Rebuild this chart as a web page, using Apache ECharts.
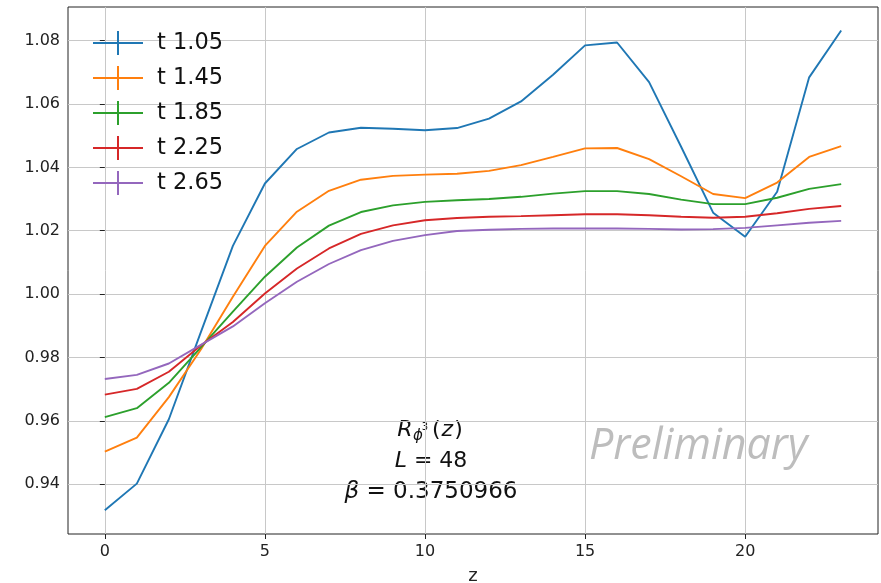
<!DOCTYPE html>
<html>
<head>
<meta charset="utf-8">
<script src="https://cdn.jsdelivr.net/npm/echarts@6/dist/echarts.min.js"></script>
<style>html,body{margin:0;padding:0;background:#fff;}#c{width:881px;height:583px;}</style>
</head>
<body>
<div id="c"></div>
<script>
const zValues = [0,1,2,3,4,5,6,7,8,9,10,11,12,13,14,15,16,17,18,19,20,21,22,23];
const seriesNames = ['t 1.05','t 1.45','t 1.85','t 2.25','t 2.65'];
const t105 = [0.9318,0.9402,0.9605,0.9880,1.0152,1.0349,1.0458,1.0510,1.0525,1.0522,1.0517,1.0524,1.0554,1.0608,1.0692,1.0785,1.0794,1.0669,1.0465,1.0257,1.0181,1.0323,1.0684,1.0832];
const t145 = [0.9503,0.9547,0.9675,0.9825,0.9992,1.0152,1.0260,1.0326,1.0361,1.0373,1.0377,1.0380,1.0389,1.0407,1.0433,1.0460,1.0461,1.0426,1.0372,1.0316,1.0303,1.0352,1.0433,1.0467];
const t185 = [0.9612,0.9640,0.9720,0.9832,0.9945,1.0055,1.0147,1.0216,1.0259,1.0280,1.0291,1.0296,1.0300,1.0307,1.0317,1.0325,1.0325,1.0316,1.0298,1.0284,1.0284,1.0304,1.0332,1.0347];
const t225 = [0.9683,0.9701,0.9755,0.9838,0.9912,1.0002,1.0081,1.0144,1.0190,1.0217,1.0233,1.0240,1.0244,1.0246,1.0249,1.0252,1.0252,1.0249,1.0244,1.0241,1.0244,1.0255,1.0269,1.0278];
const t265 = [0.9732,0.9745,0.9781,0.9840,0.9898,0.9971,1.0039,1.0095,1.0139,1.0168,1.0186,1.0199,1.0203,1.0206,1.0207,1.0207,1.0207,1.0206,1.0204,1.0205,1.0209,1.0217,1.0225,1.0231];
const xTicks = [0,5,10,15,20];
const yTicks = [0.94,0.96,0.98,1.00,1.02,1.04,1.06,1.08];
const xRange = [-1.15, 24.15];
const yRange = [0.9243, 1.0906];

const colors = ['#1f77b4','#ff7f0e','#2ca02c','#d62728','#9467bd'];
const allValues = [t105,t145,t185,t225,t265];

const chart = echarts.init(document.getElementById('c'), null, {renderer:'canvas'});
const FONT = 'DejaVu Sans';
const icon = 'path://M0,11h50v2H0z M24,0h2v24h-2z';

chart.setOption({
  animation: false,
  backgroundColor: '#fff',
  color: colors,
  grid: {left: 68, right: 3, top: 7, bottom: 49, outerBoundsMode: 'none', containLabel: false,
    show: true, borderColor: '#222', borderWidth: 1, backgroundColor: 'transparent'},
  legend: {
    orient: 'vertical', left: 88, top: 26,
    itemWidth: 50, itemHeight: 24, itemGap: 11,
    icon: icon,
    data: seriesNames.map((n,i)=>({name:n, icon: icon, itemStyle:{color: colors[i]}})),
    textStyle: {fontFamily: FONT, fontSize: 22.5, color: '#111', padding: [0,0,0,9]}
  },
  xAxis: {
    type: 'value', min: xRange[0], max: xRange[1],
    name: 'z', nameLocation: 'middle', nameGap: 33,
    nameTextStyle: {fontFamily: FONT, fontSize: 18, color: '#222'},
    axisLine: {show: false},
    axisTick: {show: true, length: 5, lineStyle: {color: '#222'}, customValues: xTicks},
    axisLabel: {customValues: xTicks, fontFamily: FONT, fontSize: 16, color: '#222', margin: 10},
    splitLine: {show: true, lineStyle: {color: '#c8c8c8', width: 1}}
  },
  yAxis: {
    type: 'value', min: yRange[0], max: yRange[1],
    axisLine: {show: false},
    axisTick: {show: true, length: 5, lineStyle: {color: '#222'}, customValues: yTicks},
    axisLabel: {customValues: yTicks, fontFamily: FONT, fontSize: 16, color: '#222', margin: 8,
      formatter: v => v.toFixed(2)},
    splitLine: {show: true, lineStyle: {color: '#c8c8c8', width: 1}}
  },
  series: seriesNames.map((n,i)=>({
    name: n, type: 'line', showSymbol: false, symbol: 'none',
    lineStyle: {width: 1.9, color: colors[i]},
    itemStyle: {color: colors[i]},
    data: zValues.map((z,k)=>[z, allValues[i][k]])
  })),
  graphic: [
    {type:'text', x:405, y:430, style:{text:'R', font:'italic 22px "DejaVu Sans"', fill:'#111', align:'center', verticalAlign:'middle'}},
    {type:'text', x:418, y:436, style:{text:'ϕ', font:'italic 15px "DejaVu Sans"', fill:'#111', align:'center', verticalAlign:'middle'}},
    {type:'text', x:425, y:427, style:{text:'3', font:'10px "DejaVu Sans"', fill:'#111', align:'center', verticalAlign:'middle'}},
    {type:'text', x:431, y:430, style:{text:'{n|(}{i|z}{n|)}', align:'left', verticalAlign:'middle',
      rich:{n:{font:'22px "DejaVu Sans"', fill:'#111', padding:[0,1,0,1]}, i:{font:'italic 22px "DejaVu Sans"', fill:'#111'}}}},
    {type:'text', x:431, y:461, style:{text:'{i|L}{n| = 48}', align:'center', verticalAlign:'middle',
      rich:{n:{font:'22px "DejaVu Sans"', fill:'#111'}, i:{font:'italic 22px "DejaVu Sans"', fill:'#111'}}}},
    {type:'text', x:431, y:492, style:{text:'{i|β}{n| = 0.3750966}', align:'center', verticalAlign:'middle',
      rich:{n:{font:'23px "DejaVu Sans"', fill:'#111'}, i:{font:'italic 23px "DejaVu Sans"', fill:'#111'}}}},
    {type:'text', x:589, y:447, style:{text:'Preliminary', font:'italic 43px "Open Sans"', fill:'#bdbdbd', align:'left', verticalAlign:'middle'}}
  ]
});
</script>
</body>
</html>
